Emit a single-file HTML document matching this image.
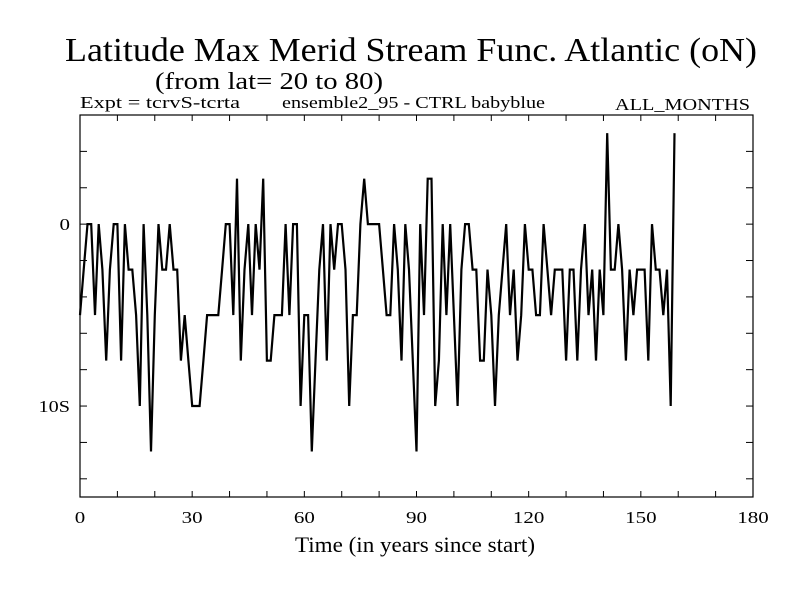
<!DOCTYPE html>
<html><head><meta charset="utf-8"><style>
body{margin:0;background:#fff;}
svg{display:block;font-family:"Liberation Serif",serif;}
</style></head><body>
<svg id="chart" width="800" height="600" viewBox="0 0 800 600">
<rect width="800" height="600" fill="#fff"/>
<text x="65" y="61" font-size="34" textLength="692" lengthAdjust="spacingAndGlyphs">Latitude Max Merid Stream Func. Atlantic (oN)</text>
<text x="155" y="89" font-size="24" textLength="228" lengthAdjust="spacingAndGlyphs">(from lat= 20 to 80)</text>
<text x="80" y="108" font-size="17" textLength="160" lengthAdjust="spacingAndGlyphs">Expt = tcrvS-tcrta</text>
<text x="282" y="108" font-size="17" textLength="263" lengthAdjust="spacingAndGlyphs">ensemble2_95 - CTRL babyblue</text>
<text x="615" y="110" font-size="17" textLength="135" lengthAdjust="spacingAndGlyphs">ALL_MONTHS</text>
<g id="ticks"></g>
<polyline id="series" fill="none" stroke="#000" stroke-width="2.2" stroke-linejoin="miter"/>
<rect x="80" y="115" width="673" height="382" fill="none" stroke="#000" stroke-width="1.2"/>
<text x="295" y="552" font-size="22" textLength="240" lengthAdjust="spacingAndGlyphs">Time (in years since start)</text>
</svg>
<script>
const years = Array.from({length:160},(_,i)=>i);
const values = [
-5,-2.5,0,0,-5,0,-2.5,-7.5,-2.5,0,0,-7.5,0,-2.5,-2.5,-5,-10,0,-5,-12.5,-5,0,-2.5,-2.5,0,-2.5,-2.5,-7.5,-5,-7.5,-10,-10,-10,-7.5,-5,-5,-5,-5,-2.5,0,0,-5,2.5,
-7.5,-2.5,0,-5,0,-2.5,2.5,-7.5,-7.5,-5,-5,-5,0,-5,0,0,-10,-5,-5,-12.5,-7.5,-2.5,0,-7.5,0,-2.5,0,0,-2.5,-10,-5,-5,0,2.5,0,0,0,0,-2.5,-5,
-5,0,-2.5,-7.5,0,-2.5,-7.5,-12.5,0,-5,2.5,2.5,-10,-7.5,0,-5,0,-5,-10,-2.5,0,0,-2.5,-2.5,-7.5,-7.5,-2.5,-5,-10,-5,-2.5,0,-5,-2.5,-7.5,-5,0,-2.5,-2.5,-5,
-5,0,-2.5,-5,-2.5,-2.5,-2.5,-7.5,-2.5,-2.5,-7.5,-2.5,0,-5,-2.5,-7.5,-2.5,-5,5,-2.5,-2.5,0,-2.5,-7.5,-2.5,-5,-2.5,-2.5,-2.5,-7.5,0,-2.5,-2.5,-5,-2.5,-10,5];
const xTicks = [0,30,60,90,120,150,180];
const xTickLabels = ["0","30","60","90","120","150","180"];
const yTicks = [0,-10];
const yTickLabels = ["0","10S"];
const X0=80,X1=753,Y0=115,Y1=497, xMin=0,xMax=180,yMin=-15,yMax=6;
const sx=v=>X0+(v-xMin)/(xMax-xMin)*(X1-X0);
const sy=v=>Y1-(v-yMin)/(yMax-yMin)*(Y1-Y0);
const NS="http://www.w3.org/2000/svg";
const g=document.getElementById('ticks');
function line(x1,y1,x2,y2,name){const l=document.createElementNS(NS,'line');l.setAttribute('x1',x1);l.setAttribute('y1',y1);l.setAttribute('x2',x2);l.setAttribute('y2',y2);l.setAttribute('stroke','#000');l.setAttribute('stroke-width','1');


g.appendChild(l);}
function text(x,y,s,anchor,name){const t=document.createElementNS(NS,'text');t.setAttribute('x',x);t.setAttribute('y',y);t.setAttribute('font-size','17');t.setAttribute('text-anchor',anchor);t.textContent=s;
t.setAttribute('textLength',s.length*10.5);
t.setAttribute('lengthAdjust','spacingAndGlyphs');


g.appendChild(t);}
for(let v=0;v<=180;v+=10){const x=sx(v);line(x,Y1,x,Y1-6,'x-tick');line(x,Y0,x,Y0+6,'x-tick-top');}
for(let v=-14;v<=6;v+=2){const y=sy(v);line(X0,y,X0+7,y,'y-tick');line(X1,y,X1-7,y,'y-tick-right');}
xTicks.forEach((v,i)=>text(sx(v),523,xTickLabels[i],'middle','x-tick-label'));
yTicks.forEach((v,i)=>text(X0-10,sy(v)+6,yTickLabels[i],'end','y-tick-label'));
document.getElementById('series').setAttribute('points',years.map((yr,i)=>sx(yr).toFixed(1)+','+sy(values[i]).toFixed(1)).join(' '));
</script>
</body></html>
